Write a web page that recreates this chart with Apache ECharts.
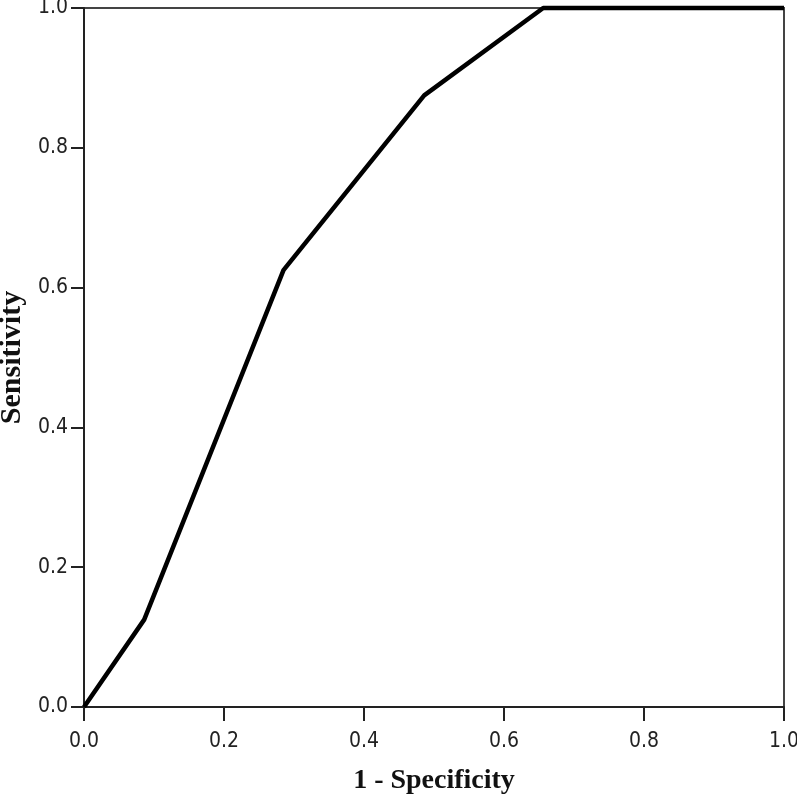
<!DOCTYPE html>
<html>
<head>
<meta charset="utf-8">
<script src="https://cdn.jsdelivr.net/npm/echarts@6/dist/echarts.min.js"></script>
<style>html,body{margin:0;padding:0;background:#fff}#c{width:797px;height:797px}</style>
</head>
<body>
<div id="c"></div>
<script>
const fpr = [0, 0.086, 0.285, 0.486, 0.656, 1.0];
const tpr = [0, 0.125, 0.625, 0.875, 1.0, 1.0];
const xTitle = '1 - Specificity';
const yTitle = 'Sensitivity';

const chart = echarts.init(document.getElementById('c'), null, {renderer: 'canvas'});
const tickFont = {fontFamily: "'Liberation Sans Narrow', 'DejaVu Sans Condensed', sans-serif", fontSize: 21, color: '#222'};
chart.setOption({
  animation: false,
  backgroundColor: '#fff',
  grid: {left: 84, right: 13, top: 8, bottom: 90, containLabel: false, outerBoundsMode: 'none',
         show: true, borderColor: '#444', borderWidth: 2, backgroundColor: 'transparent'},
  xAxis: {
    type: 'value', min: 0, max: 1, interval: 0.2,
    name: xTitle, nameLocation: 'middle', nameGap: 60,
    nameTextStyle: {fontFamily: "'Liberation Serif', serif", fontWeight: 'bold', fontSize: 28, color: '#111'},
    axisLine: {show: true, lineStyle: {color: '#222', width: 2}},
    axisTick: {show: true, inside: false, length: 14, lineStyle: {color: '#222', width: 2}},
    axisLabel: Object.assign({formatter: v => v.toFixed(1), margin: 24}, tickFont),
    splitLine: {show: false}
  },
  yAxis: {
    type: 'value', min: 0, max: 1, interval: 0.2,
    name: yTitle, nameLocation: 'middle', nameGap: 57, nameMoveOverlap: false,
    nameTextStyle: {fontFamily: "'Liberation Serif', serif", fontWeight: 'bold', fontSize: 30, color: '#111'},
    axisLine: {show: true, lineStyle: {color: '#222', width: 2}},
    axisTick: {show: true, inside: false, length: 13, lineStyle: {color: '#222', width: 2}},
    axisLabel: Object.assign({formatter: v => v.toFixed(1), margin: 16}, tickFont),
    splitLine: {show: false}
  },
  series: [{
    type: 'line',
    data: fpr.map((x, i) => [x, tpr[i]]),
    symbol: 'none',
    lineStyle: {color: '#000', width: 4.5},
    clip: false
  }]
});
</script>
</body>
</html>
